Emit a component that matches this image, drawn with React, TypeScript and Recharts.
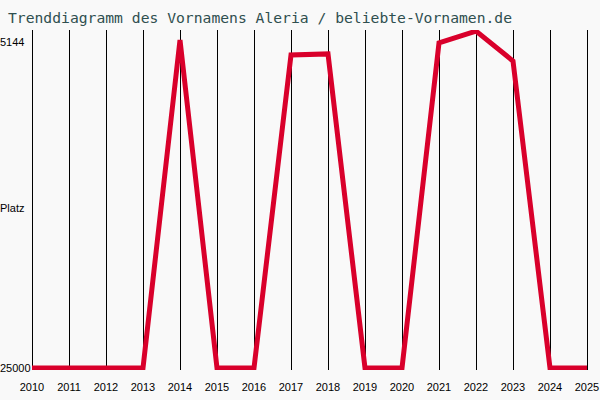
import React from 'react';
import { LineChart, Line, XAxis, YAxis, CartesianGrid } from 'recharts';

const years = [2010, 2011, 2012, 2013, 2014, 2015, 2016, 2017, 2018, 2019, 2020, 2021, 2022, 2023, 2024, 2025];
const ranks = [25000, 25000, 25000, 25000, 5020, 25000, 25000, 5930, 5870, 25000, 25000, 5200, 4480, 6300, 25000, 25000];
const yTicks = [5144, 15250, 25000];
const yTickLabels = ['5144', 'Platz', '25000'];
const yDomain = [4413, 25122];
const title = 'Trenddiagramm des Vornamens Aleria / beliebte-Vornamen.de';

const data = years.map((y, i) => ({ year: y, rank: ranks[i] }));

const YTick = (props: any) => {
  const { y, payload } = props;
  const idx = yTicks.indexOf(payload.value);
  return (
    <text x={0} y={y} textAnchor="start" dominantBaseline="central" fontSize={11} fontFamily="'Liberation Sans', Arial, sans-serif" fill="#000">
      {idx >= 0 ? yTickLabels[idx] : payload.value}
    </text>
  );
};

const XTick = (props: any) => {
  const { x, payload } = props;
  return (
    <text x={x} y={387} textAnchor="middle" dominantBaseline="central" fontSize={11} fontFamily="'Liberation Sans', Arial, sans-serif" fill="#000">
      {payload.value}
    </text>
  );
};

export default function App() {
  return (
    <div style={{ position: 'absolute', left: 0, top: 0, width: 600, height: 400, background: '#f9f9f9' }}>
      <div style={{ position: 'absolute', left: 8, top: 8, fontFamily: "'DejaVu Sans Mono', monospace", fontSize: 14.7, color: '#2f4f4f', lineHeight: '20px', whiteSpace: 'nowrap' }}>
        {title}
      </div>
      <LineChart width={600} height={400} data={data} margin={{ top: 30, right: 13, bottom: 0, left: 0 }}>
        <CartesianGrid horizontal={false} vertical={true} stroke="#000" strokeOpacity={1} shapeRendering="crispEdges" />
        <XAxis dataKey="year" type="number" domain={[2010, 2025]} ticks={years} interval={0} axisLine={false} tickLine={false} tick={<XTick />} height={30} />
        <YAxis type="number" domain={yDomain} reversed ticks={yTicks} interval={0} axisLine={false} tickLine={false} tick={<YTick />} width={32} allowDataOverflow />
        <Line type="linear" dataKey="rank" stroke="#d9002b" strokeWidth={5} dot={false} isAnimationActive={false} strokeLinejoin="miter" />
      </LineChart>
    </div>
  );
}
